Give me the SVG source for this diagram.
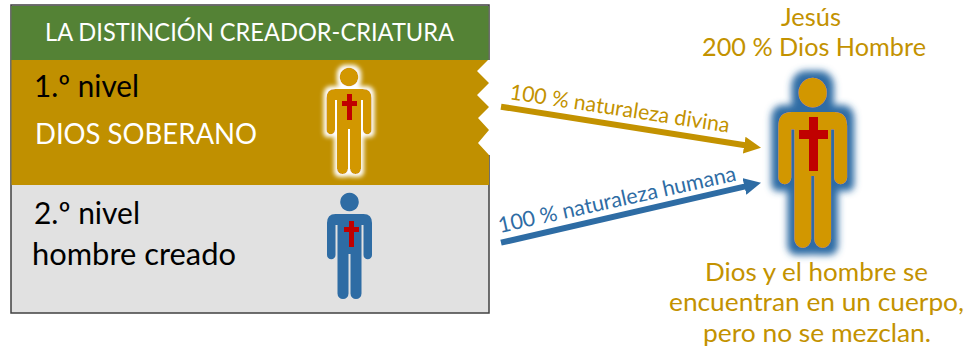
<svg xmlns="http://www.w3.org/2000/svg" width="967" height="349" viewBox="0 0 967 349">
<style>
text{font-family:Lato,"Open Sans","Liberation Sans",sans-serif;}
.gold{fill:#C09000}
.tl{font-size:30px;fill:#000}
.tw{fill:#fff}
.rt{font-size:25px;fill:#C39200}
.al{font-size:21.500px}
.cross{fill:#C00000}
</style>
<defs>
<path id="person" d="M0,-9.3a9.3,9.3 0 1 1 -0.01,0ZM-14,12H14Q22.5,12 22.5,21V53a4.25,4.25 0 0 1 -8.5,0V23H12V91.5a5.5,5.5 0 0 1 -11,0V52H-1V91.5a5.5,5.5 0 0 1 -11,0V23H-14V53a4.25,4.25 0 0 1 -8.5,0V21Q-22.5,12 -14,12Z"/>
<filter id="glowW" x="-40%" y="-20%" width="180%" height="140%">
<feMorphology in="SourceAlpha" operator="dilate" radius="3"/><feGaussianBlur stdDeviation="1.900" result="b"/>
<feFlood flood-color="#fff"/><feComposite in2="b" operator="in"/>
<feMerge><feMergeNode/><feMergeNode in="SourceGraphic"/></feMerge>
</filter>
<filter id="glowB" x="-40%" y="-20%" width="180%" height="140%">
<feMorphology in="SourceAlpha" operator="dilate" radius="4.500"/><feGaussianBlur stdDeviation="2.400" result="b"/>
<feFlood flood-color="#2E6CA4"/><feComposite in2="b" operator="in"/>
<feMerge><feMergeNode/><feMergeNode in="SourceGraphic"/></feMerge>
</filter>
<marker id="headG" markerUnits="userSpaceOnUse" markerWidth="18" markerHeight="18" viewBox="0 0 18 18" refX="1" refY="9" orient="auto"><path d="M0,0.500L17,9L0,17.500Z" fill="#C39200"/></marker>
<marker id="headB" markerUnits="userSpaceOnUse" markerWidth="18" markerHeight="18" viewBox="0 0 18 18" refX="1" refY="9" orient="auto"><path d="M0,0.500L17,9L0,17.500Z" fill="#2E6CA4"/></marker>
</defs>
<rect width="967" height="349" fill="#fff"/>
<g id="table">
<rect x="11" y="5" width="478" height="308" fill="#E1E1E1" stroke="#404040" stroke-width="1.500"/>
<rect x="11.500" y="6" width="477" height="54.500" fill="#548235"/>
<path d="M11.500,60H489V185H11.500Z" class="gold"/>
<path d="M490,60V155L489,155L478,143L489,130L478,118L489,107L477,95L489,83L477,71L488,60Z" fill="#fff"/>
<text id="title" x="45" y="41" font-size="25" class="tw" textLength="409" lengthAdjust="spacingAndGlyphs">LA DISTINCIÓN CREADOR-CRIATURA</text>
</g>
<g id="level1">
<text class="tl" x="34" y="97" textLength="105" lengthAdjust="spacingAndGlyphs">1.º nivel</text>
<text class="tw" x="35" y="144" font-size="28" textLength="222" lengthAdjust="spacingAndGlyphs">DIOS SOBERANO</text>
<g id="person-gold">
<use href="#person" x="349" y="77" fill="#D29700" filter="url(#glowW)"/>
<rect class="cross" x="347" y="94" width="5" height="26"/>
<rect class="cross" x="342" y="101" width="15" height="5"/>
</g>
</g>
<g id="level2">
<text class="tl" x="34" y="224" textLength="106" lengthAdjust="spacingAndGlyphs">2.º nivel</text>
<text class="tl" x="32" y="265" textLength="204" lengthAdjust="spacingAndGlyphs">hombre creado</text>
<g id="person-blue">
<use href="#person" x="349.500" y="202" fill="#2E6CA4"/>
<rect class="cross" x="349" y="221" width="5" height="26"/>
<rect class="cross" x="344" y="227" width="15" height="5"/>
</g>
</g>
<g id="connectors">
<line x1="501" y1="106.700" x2="745.200" y2="145.200" stroke="#C39200" stroke-width="6" marker-end="url(#headG)"/>
<line x1="501" y1="242.700" x2="745.400" y2="186.300" stroke="#2E6CA4" stroke-width="6" marker-end="url(#headB)"/>
<text class="al" transform="translate(509 99) rotate(8.700)" fill="#C39200" textLength="222" lengthAdjust="spacingAndGlyphs">100 % naturaleza divina</text>
<text class="al" transform="translate(500 233) rotate(-12.500)" fill="#2E6CA4" textLength="243" lengthAdjust="spacingAndGlyphs">100 % naturaleza humana</text>
</g>
<g id="jesus">
<text class="rt" x="781" y="26" textLength="60" lengthAdjust="spacingAndGlyphs">Jesús</text>
<text class="rt" x="702" y="56" textLength="224" lengthAdjust="spacingAndGlyphs">200 % Dios Hombre</text>
<use href="#person" transform="translate(812.700 92.700) scale(1.53 1.6)" fill="#D29700" filter="url(#glowB)"/>
<rect class="cross" x="809" y="117" width="9" height="54"/>
<rect class="cross" x="799" y="130" width="29" height="9"/>
<text class="rt" x="705" y="281" textLength="223" lengthAdjust="spacingAndGlyphs">Dios y el hombre se</text>
<text class="rt" x="669" y="311" textLength="295" lengthAdjust="spacingAndGlyphs">encuentran en un cuerpo,</text>
<text class="rt" x="703" y="342" textLength="228" lengthAdjust="spacingAndGlyphs">pero no se mezclan.</text>
</g>
</svg>
